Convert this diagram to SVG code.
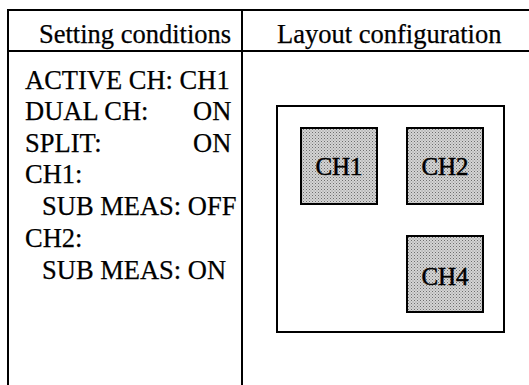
<svg xmlns="http://www.w3.org/2000/svg" width="529" height="385" viewBox="0 0 529 385">
<defs>
<pattern id="dots" width="3" height="3" patternUnits="userSpaceOnUse">
<rect width="3" height="3" fill="#d4d4d4"/>
<rect x="0" y="0" width="1" height="1" fill="#6e6e6e"/>
<rect x="1.5" y="1.5" width="1" height="1" fill="#8e8e8e"/>
</pattern>
<style>
text{font-family:"Liberation Serif","Times New Roman",serif;font-size:26.5px;fill:#000;stroke:#000;stroke-width:0.25}
.ln{stroke:#000;stroke-width:2;fill:none}
.ch{fill:url(#dots);stroke:#000;stroke-width:2}
.lbl{font-size:25px;text-anchor:middle;stroke-width:0.5}
</style>
</defs>
<rect width="529" height="385" fill="#fff"/>
<g id="table">
<line class="ln" x1="8" y1="10" x2="529" y2="10"/>
<line class="ln" x1="8" y1="51" x2="529" y2="51"/>
<line class="ln" x1="8" y1="9" x2="8" y2="385"/>
<line class="ln" x1="242" y1="10" x2="242" y2="385"/>
</g>
<g id="headers">
<text x="39" y="43">Setting conditions</text>
<text x="277" y="43">Layout configuration</text>
</g>
<g id="conditions">
<text x="25" y="89">ACTIVE CH: CH1</text>
<text x="25" y="120">DUAL CH:</text><text x="193" y="120">ON</text>
<text x="25" y="152">SPLIT:</text><text x="193" y="152">ON</text>
<text x="25" y="183">CH1:</text>
<text x="42" y="215">SUB MEAS: OFF</text>
<text x="25" y="247">CH2:</text>
<text x="42" y="279">SUB MEAS: ON</text>
</g>
<g id="layout">
<rect class="ln" x="277" y="106" width="227" height="226"/>
</g>
<g id="ch1"><rect class="ch" x="301" y="128" width="76" height="76"/><text class="lbl" x="339" y="175">CH1</text></g>
<g id="ch2"><rect class="ch" x="407" y="128" width="76" height="76"/><text class="lbl" x="445" y="175">CH2</text></g>
<g id="ch4"><rect class="ch" x="407" y="236" width="76" height="76"/><text class="lbl" x="445" y="285">CH4</text></g>
</svg>
